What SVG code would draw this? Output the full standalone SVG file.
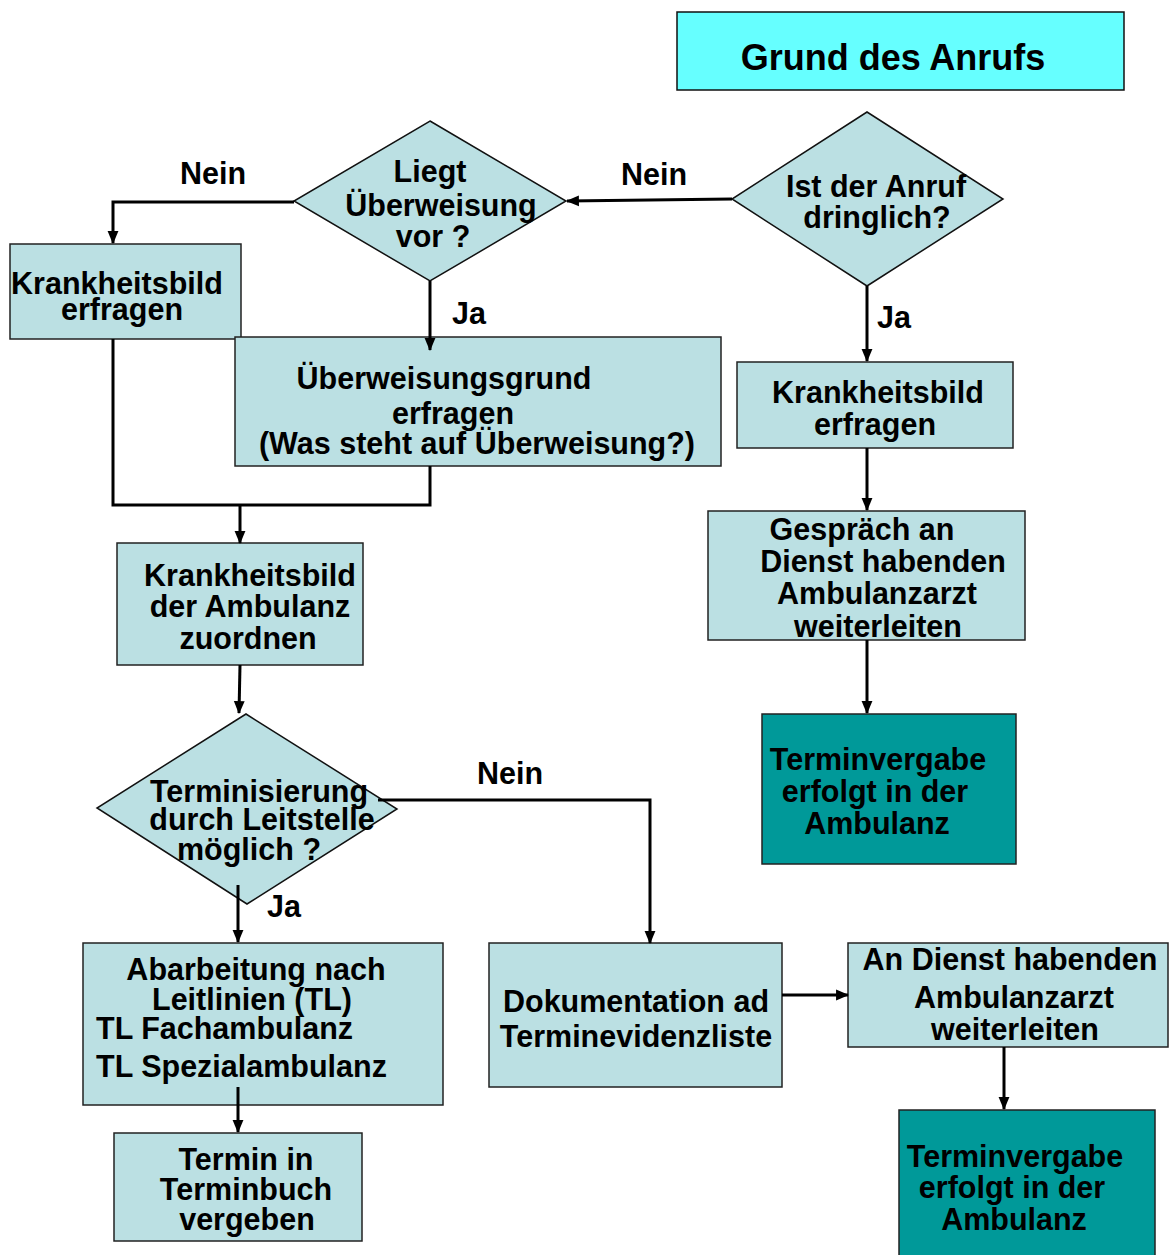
<svg xmlns="http://www.w3.org/2000/svg" width="1169" height="1255" viewBox="0 0 1169 1255">
<style>
text{font-family:"Liberation Sans",Arial,sans-serif;font-weight:bold;font-size:30.5px;fill:#000}
.c{text-anchor:middle}
.box{fill:#BBE0E3;stroke:#222;stroke-width:1.5}
.teal{fill:#009999;stroke:#222;stroke-width:1.5}
.title{fill:#66FFFF;stroke:#111;stroke-width:1.5}
.dia{fill:#BBE0E3;stroke:#111;stroke-width:1.5}
.ln{fill:none;stroke:#000;stroke-width:3}
.ar{fill:none;stroke:#000;stroke-width:3;marker-end:url(#arr)}
</style>
<defs>
<marker id="arr" viewBox="0 0 12 12" refX="11" refY="6" markerWidth="13" markerHeight="13" markerUnits="userSpaceOnUse" orient="auto">
<path d="M0,1 L12,6 L0,11 z" fill="#000"/>
</marker>
</defs>
<rect width="1169" height="1255" fill="#fff"/>

<g id="title">
<rect class="title" x="677" y="12" width="447" height="78"/>
<text class="c" x="893" y="70" style="font-size:36px">Grund des Anrufs</text>
</g>

<g id="d1">
<polygon class="dia" points="867,112 1003,199 867,286 732,199"/>
<text class="c" x="876" y="197">Ist der Anruf</text>
<text class="c" x="877" y="228">dringlich?</text>
</g>

<g id="d2">
<polygon class="dia" points="430,121 566,201 430,281 294,201"/>
<text class="c" x="430" y="182">Liegt</text>
<text class="c" x="441" y="216">Überweisung</text>
<text class="c" x="433" y="247">vor ?</text>
</g>

<g id="kb1">
<rect class="box" x="10" y="244" width="231" height="95"/>
<text class="c" x="117" y="294">Krankheitsbild</text>
<text class="c" x="122" y="320">erfragen</text>
</g>

<g id="ueb">
<rect class="box" x="235" y="337" width="486" height="129"/>
<text class="c" x="444" y="389">Überweisungsgrund</text>
<text class="c" x="453" y="424">erfragen</text>
<text class="c" x="477" y="454">(Was steht auf Überweisung?)</text>
</g>

<g id="kb2">
<rect class="box" x="737" y="362" width="276" height="86"/>
<text class="c" x="878" y="403">Krankheitsbild</text>
<text class="c" x="875" y="435">erfragen</text>
</g>

<g id="gesp">
<rect class="box" x="708" y="511" width="317" height="129"/>
<text class="c" x="862" y="540">Gespräch an</text>
<text class="c" x="883" y="572">Dienst habenden</text>
<text class="c" x="877" y="604">Ambulanzarzt</text>
<text class="c" x="878" y="637">weiterleiten</text>
</g>

<g id="tv1">
<rect class="teal" x="762" y="714" width="254" height="150"/>
<text class="c" x="878" y="770">Terminvergabe</text>
<text class="c" x="875" y="802">erfolgt in der</text>
<text class="c" x="877" y="834">Ambulanz</text>
</g>

<g id="kba">
<rect class="box" x="117" y="543" width="246" height="122"/>
<text class="c" x="250" y="586">Krankheitsbild</text>
<text class="c" x="250" y="617">der Ambulanz</text>
<text class="c" x="248" y="649">zuordnen</text>
</g>

<g id="d3">
<polygon class="dia" points="246,714 397,809 247,904 97,808"/>
<text class="c" x="259" y="802">Terminisierung</text>
<text class="c" x="262" y="830">durch Leitstelle</text>
<text class="c" x="249" y="860">möglich ?</text>
</g>

<g id="abarb">
<rect class="box" x="83" y="943" width="360" height="162"/>
<text class="c" x="256" y="980">Abarbeitung nach</text>
<text class="c" x="252" y="1010">Leitlinien (TL)</text>
<text x="96" y="1039">TL Fachambulanz</text>
<text x="96" y="1077">TL Spezialambulanz</text>
</g>

<g id="termin">
<rect class="box" x="114" y="1133" width="248" height="108"/>
<text class="c" x="246" y="1170">Termin in</text>
<text class="c" x="246" y="1200">Terminbuch</text>
<text class="c" x="247" y="1230">vergeben</text>
</g>

<g id="doku">
<rect class="box" x="489" y="943" width="293" height="144"/>
<text class="c" x="636" y="1012">Dokumentation ad</text>
<text class="c" x="636" y="1047">Terminevidenzliste</text>
</g>

<g id="andienst">
<rect class="box" x="848" y="943" width="320" height="104"/>
<text class="c" x="1010" y="970">An Dienst habenden</text>
<text class="c" x="1014" y="1008">Ambulanzarzt</text>
<text class="c" x="1015" y="1040">weiterleiten</text>
</g>

<g id="tv2">
<rect class="teal" x="899" y="1110" width="256" height="155"/>
<text class="c" x="1015" y="1167">Terminvergabe</text>
<text class="c" x="1012" y="1198">erfolgt in der</text>
<text class="c" x="1014" y="1230">Ambulanz</text>
</g>

<g id="connectors">
<path class="ar" d="M732,199 L567,201"/>
<path class="ar" d="M294,202 L113,202 L113,243"/>
<path class="ar" d="M430,281 L430,350"/>
<path class="ln" d="M113,339 L113,505 L430,505 L430,466"/>
<path class="ar" d="M240,505 L240,543"/>
<path class="ar" d="M240,665 L239,713"/>
<path class="ar" d="M867,286 L867,361"/>
<path class="ar" d="M867,448 L867,510"/>
<path class="ar" d="M867,640 L867,713"/>
<path class="ar" d="M378,800 L650,800 L650,943"/>
<path class="ar" d="M238,885 L238,942"/>
<path class="ar" d="M238,1087 L238,1132"/>
<path class="ar" d="M782,995 L848,995"/>
<path class="ar" d="M1004,1047 L1004,1109"/>
</g>

<g id="labels">
<text class="c" x="213" y="184">Nein</text>
<text class="c" x="654" y="185">Nein</text>
<text class="c" x="469" y="324">Ja</text>
<text class="c" x="894" y="328">Ja</text>
<text class="c" x="510" y="784">Nein</text>
<text class="c" x="284" y="917">Ja</text>
</g>
</svg>
